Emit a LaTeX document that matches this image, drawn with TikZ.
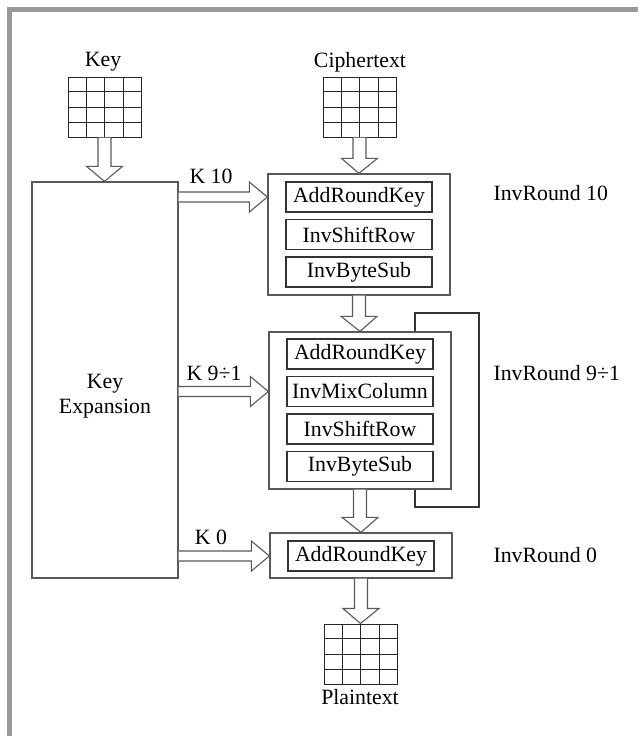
\documentclass[tikz,border=0pt]{standalone}
\usepackage{fontspec}
\setmainfont{Liberation Serif}
\usetikzlibrary{calc}

% 4x4 state grid drawn inside a node
\newcommand\cells[1]{%
  \foreach \i in {1,2,3}{%
    \draw[cell] ($(#1.north west)!\i/4!(#1.north east)$) -- ($(#1.south west)!\i/4!(#1.south east)$);
    \draw[cell] ($(#1.north west)!\i/4!(#1.south west)$) -- ($(#1.north east)!\i/4!(#1.south east)$);
  }}
% hollow block arrows
\newcommand\hollowdown[2]{%
  \draw[blockarr] let \p1=(#1), \p2=(#2) in
    (\x1-6.5pt,\y1) -- (\x1-6.5pt,\y2+15pt) -- (\x1-18pt,\y2+15pt) -- (\x2,\y2)
    -- (\x1+18pt,\y2+15pt) -- (\x1+6.5pt,\y2+15pt) -- (\x1+6.5pt,\y1);}
\newcommand\hollowright[2]{%
  \draw[blockarr] let \p1=(#1), \p2=(#2) in
    (\x1,\y2+5pt) -- (\x2-18pt,\y2+5pt) -- (\x2-18pt,\y2+15pt) -- (\x2,\y2)
    -- (\x2-18pt,\y2-15pt) -- (\x2-18pt,\y2-5pt) -- (\x1,\y2-5pt);}

\begin{document}
\begin{tikzpicture}[x=1pt, y=-1pt, font=\fontsize{21.8}{25}\selectfont,
  state/.style={draw=black!85, line width=1pt, minimum width=73pt, minimum height=60pt, inner sep=0pt},
  cell/.style={draw=black!85, line width=0.9pt},
  round/.style={draw=black!65, line width=1.3pt, minimum width=182pt, inner sep=0pt},
  stage/.style={draw=black!80, line width=1.2pt, minimum width=146pt, minimum height=30pt, inner sep=0pt},
  blockarr/.style={draw=black!65, line width=1.1pt, fill=white},
  line/.style={draw=black!80, line width=1.3pt}
]
  \useasboundingbox (0,0) rectangle (638,736);
  \fill[black!40] (7,7) rectangle (638,12);
  \fill[black!40] (7,7) rectangle (12,736);

  % input / output states
  \node (keylbl) at (103,62) {Key};
  \node[state] (key) at (104.5,107) {};
  \cells{key}
  \node (ctlbl) at (360,62) {Ciphertext};
  \node[state] (ct) at (359.5,107) {};
  \cells{ct}
  \node[state] (pt) at (360.5,654) {};
  \cells{pt}
  \node (ptlbl) at (360,697) {Plaintext};

  % key schedule
  \node[round, minimum width=146pt, minimum height=396pt] (kx) at (105,380) {};
  \node[align=center] (kxlbl) at (105,396) {Key\\Expansion};

  % rounds
  \node[round, minimum height=121pt] (r10) at (359,234.5) {};
  \node[stage] (ark10) at (359,197)   {AddRoundKey};
  \node[stage] (isr10) at (359,234.5) {InvShiftRow};
  \node[stage] (ibs10) at (359,272)   {InvByteSub};

  \node[round, minimum height=157pt] (r9) at (360,410.5) {};
  \node[stage] (ark9) at (360,354)   {AddRoundKey};
  \node[stage] (imc9) at (360,391.5) {InvMixColumn};
  \node[stage] (isr9) at (360,429)   {InvShiftRow};
  \node[stage] (ibs9) at (360,466.5) {InvByteSub};

  \node[round, minimum height=45pt] (r0) at (361,555.5) {};
  \node[stage] (ark0) at (361,556) {AddRoundKey};

  \node[anchor=west] (lbl10) at (490,193) {InvRound 10};
  \node[anchor=west] (lbl9)  at (490,373) {InvRound 9÷1};
  \node[anchor=west] (lbl0)  at (490,555) {InvRound 0};

  % data path
  \hollowdown{key.south}{kx.north -| key.south}
  \hollowdown{ct.south}{r10.north}
  \hollowdown{r10.south}{r9.north}
  \hollowdown{r9.south}{r0.north}
  \hollowdown{r0.south}{pt.north}

  % round keys
  \hollowright{kx.east}{r10.west |- ark10}
  \hollowright{kx.east}{r9.west |- imc9}
  \hollowright{kx.east}{r0.west |- ark0}
  \node (k10) at (211,176) {K 10};
  \node (k9)  at (214,373) {K 9÷1};
  \node (k0)  at (211,537) {K 0};

  % loop over rounds 9 to 1
  \coordinate (lpa) at (479,313);
  \coordinate (lpb) at (415,507);
  \draw[line] (r9.north -| lpb) |- (lpa) |- (lpb) -- (r9.south -| lpb);
\end{tikzpicture}
\end{document}
